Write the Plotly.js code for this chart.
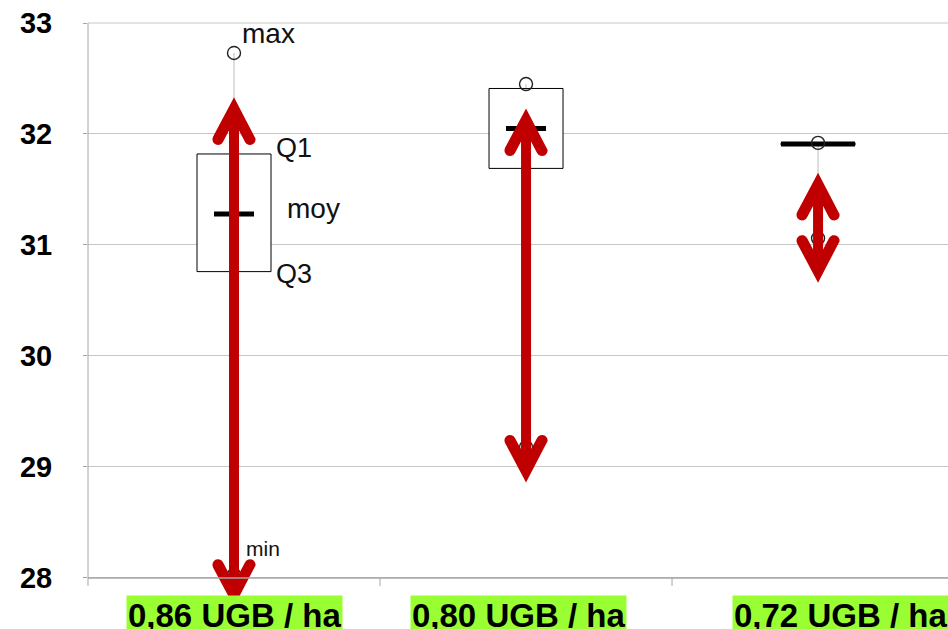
<!DOCTYPE html>
<html><head><meta charset="utf-8">
<script src="https://cdn.plot.ly/plotly-3.0.1.min.js"></script>
<style>html,body{margin:0;padding:0;background:#fff;overflow:hidden}#chart{width:948px;height:629px}</style>
</head><body><div id="chart"></div>
<script>
// ---- data ----
const categories = ['0,86 UGB / ha', '0,80 UGB / ha', '0,72 UGB / ha'];
const maxValues  = [32.73, 32.45, 31.92];
const minValues  = [28.03, 29.18, 31.06];
const q1Values   = [31.82, 32.41, 31.92];   // upper edge of box (labelled "Q1")
const q3Values   = [30.76, 31.69, 31.90];   // lower edge of box (labelled "Q3")
const meanValues = [31.28, 32.05, 31.91];
const arrowTop    = [32.33, 32.23, 31.65];
const arrowBottom = [27.74, 28.86, 30.66];
const yTicks = [28, 29, 30, 31, 32, 33];
const pointLabels = ['max', 'Q1', 'moy', 'Q3', 'min'];

// ---- layout / style constants ----
const W = 948, H = 629;
const M = {l: 88, r: 0, t: 23, b: 0};
const X_RANGE = [-0.5, 2.445];
const Y_RANGE = [27.54, 33];
const FONT = 'Liberation Sans, Arial, sans-serif';
const RED = '#c00000';
const pxX = (W - M.l - M.r) / (X_RANGE[1] - X_RANGE[0]);
const pxY = (H - M.t - M.b) / (Y_RANGE[1] - Y_RANGE[0]);
const BOX_HALF = 37 / pxX;
const MEAN_HALF_PX = [20, 20, 37];
const xi = categories.map((c, i) => i);

// whiskers
const wx = [], wy = [];
xi.forEach(i => { wx.push(i, i, null); wy.push(minValues[i], maxValues[i], null); });
// boxes
const bx = [], by = [];
xi.forEach(i => {
  const a = i - BOX_HALF, b = i + BOX_HALF;
  bx.push(a, b, b, a, a, null);
  by.push(q3Values[i], q3Values[i], q1Values[i], q1Values[i], q3Values[i], null);
});
// mean bars
const mx = [], my = [];
xi.forEach(i => { const h = MEAN_HALF_PX[i] / pxX; mx.push(i - h, i + h, null); my.push(meanValues[i], meanValues[i], null); });
// arrow shafts
const sx = [], sy = [];
xi.forEach(i => { sx.push(i, i, null); sy.push(arrowBottom[i] + 22 / pxY, arrowTop[i] - 22 / pxY, null); });
// arrow heads (chevrons) built in pixel offsets from the tip
function chevronPts() {
  const u = [0.466, 0.885], n = [0.885, -0.466], C = [16, 42], r = 5.6;
  const right = [[0, 0]];
  for (let k = 0; k <= 8; k++) {
    const th = Math.PI / 2 - k * Math.PI / 8;
    right.push([C[0] + r * (Math.cos(th) * u[0] + Math.sin(th) * n[0]),
                C[1] + r * (Math.cos(th) * u[1] + Math.sin(th) * n[1])]);
  }
  const last = right[right.length - 1];
  const t = last[0] / u[0];
  const inner = [0, last[1] - t * u[1]];
  const pts = right.slice();
  pts.push(inner);
  for (let k = right.length - 1; k >= 1; k--) pts.push([-right[k][0], right[k][1]]);
  pts.push([0, 0]);
  return pts;
}
const CH = chevronPts();
const hx = [], hy = [];
xi.forEach(i => {
  CH.forEach(p => { hx.push(i + p[0] / pxX); hy.push(arrowTop[i] - p[1] / pxY); }); hx.push(null); hy.push(null);
  CH.forEach(p => { hx.push(i + p[0] / pxX); hy.push(arrowBottom[i] + p[1] / pxY); }); hx.push(null); hy.push(null);
});

const traces = [
  {x: wx, y: wy, mode: 'lines', line: {color: '#bdbdbd', width: 1}, hoverinfo: 'skip'},
  {x: bx, y: by, mode: 'lines', fill: 'toself', fillcolor: '#ffffff', line: {color: '#000', width: 1}, hoverinfo: 'skip'},
  {x: mx, y: my, mode: 'lines', line: {color: '#000', width: 5}, hoverinfo: 'skip'},
  {x: xi.concat(xi), y: maxValues.concat(minValues), mode: 'markers', cliponaxis: false,
   marker: {symbol: 'circle-open', size: 13, color: '#222', line: {width: 1.4, color: '#222'}}, hoverinfo: 'skip'},
  {x: sx, y: sy, mode: 'lines', line: {color: RED, width: 10}, hoverinfo: 'skip'},
  {x: hx, y: hy, mode: 'lines', fill: 'toself', fillcolor: RED, line: {color: RED, width: 0}, hoverinfo: 'skip'}
];

const yPaper = v => (v - Y_RANGE[0]) / (Y_RANGE[1] - Y_RANGE[0]);
const xPaper = v => (v - X_RANGE[0]) / (X_RANGE[1] - X_RANGE[0]);
const AX = '#a6a6a6';
const shapes = [
  {type: 'line', xref: 'paper', yref: 'paper', x0: 0, x1: 0, y0: yPaper(yTicks[0]) - 8 / (H - M.t), y1: 1, line: {color: AX, width: 1}},
  {type: 'line', xref: 'paper', yref: 'paper', x0: 0, x1: 1, y0: yPaper(yTicks[0]), y1: yPaper(yTicks[0]), line: {color: AX, width: 1.5}},
  {type: 'line', xref: 'paper', yref: 'paper', x0: 0, x1: 1, y0: 1, y1: 1, line: {color: '#c6c6c6', width: 1}}
];
[0.5, 1.5].forEach(b => shapes.push({type: 'line', xref: 'paper', yref: 'paper', x0: xPaper(b), x1: xPaper(b),
  y0: yPaper(yTicks[0]), y1: yPaper(yTicks[0]) - 8 / (H - M.t), line: {color: AX, width: 1}}));

const LABEL_SHIFT = [0, -8, 22];
const annotations = categories.map((c, i) => ({
  x: i, y: yTicks[0], xref: 'x', yref: 'y', text: c, showarrow: false,
  xanchor: 'center', yanchor: 'top', xshift: LABEL_SHIFT[i], yshift: -17,
  bgcolor: '#99ff33', borderpad: 1,
  font: {family: FONT, size: 33, weight: 700, color: '#000'}
}));
const lab = (text, y, xs, ys, size) => ({x: 0, y: y, xref: 'x', yref: 'y', text: text, showarrow: false,
  xanchor: 'left', yanchor: 'middle', xshift: xs, yshift: ys, font: {family: FONT, size: size, color: '#111'}});
annotations.push(lab(pointLabels[0], maxValues[0], 6, 19, 28));
annotations.push(lab(pointLabels[1], q1Values[0], 40, 6, 27));
annotations.push(lab(pointLabels[2], meanValues[0], 51, 5, 28));
annotations.push(lab(pointLabels[3], q3Values[0], 40, -2, 27));
annotations.push(lab(pointLabels[4], minValues[0], 10, 26, 21));

const layout = {
  width: W, height: H, margin: M, paper_bgcolor: '#fff', plot_bgcolor: '#fff',
  showlegend: false, hovermode: false,
  xaxis: {range: X_RANGE, showgrid: false, showline: false, zeroline: false, showticklabels: false, ticks: '', fixedrange: true},
  yaxis: {range: Y_RANGE, tickvals: yTicks, ticktext: yTicks.map(String), showgrid: true, gridcolor: '#c6c6c6', gridwidth: 1,
    zeroline: false, showline: false, ticks: 'outside', ticklen: 4, tickcolor: AX, ticklabelstandoff: 25,
    tickfont: {family: FONT, size: 29, weight: 700, color: '#000'}, fixedrange: true},
  shapes: shapes, annotations: annotations
};
Plotly.newPlot('chart', traces, layout, {displayModeBar: false, staticPlot: true});
</script></body></html>
